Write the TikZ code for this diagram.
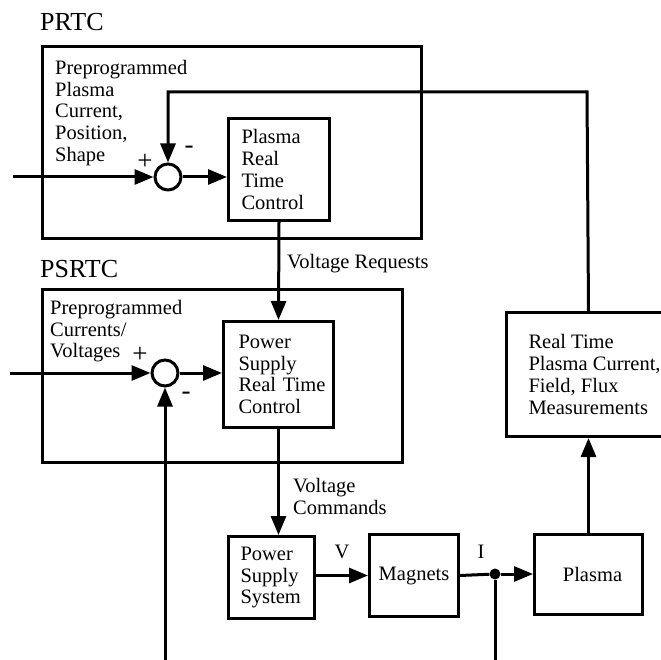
\documentclass[tikz,border=0pt]{standalone}
\usepackage{fontspec}
\setmainfont{Liberation Serif}
\usetikzlibrary{arrows.meta}

\begin{document}
\begin{tikzpicture}[x=1pt,y=-1pt,
				wire/.style={draw=black,line width=3pt},
				arr/.style={wire,-{Triangle[length=19pt,width=15pt]}},
				grp/.style={draw=black,line width=3pt,anchor=north west,inner sep=0pt},
				blk/.style={draw=black,line width=3pt,anchor=north west,align=left,
					font=\fontsize{20.5}{21.7}\selectfont,inner ysep=0pt},
				sumj/.style={circle,draw=black,line width=3pt,minimum size=26pt,
					inner sep=0pt},
				txt/.style={font=\fontsize{20.5}{21.7}\selectfont,align=left,inner sep=0pt},
				sgn/.style={font=\fontsize{27}{28}\selectfont,inner sep=0pt},
				ttl/.style={font=\fontsize{26}{28}\selectfont,inner sep=0pt,anchor=base west},
				tap/.style={circle,fill=black,inner sep=0pt,minimum size=11pt}]

				\useasboundingbox (0,0) rectangle (661,660);

				%%%%%%%%%%%%%%%%  PRTC  %%%%%%%%%%%%%%%%
				\node[ttl] (prtcT) at (40,31) {PRTC};
				\node[grp,minimum width=379pt,minimum height=192pt] (prtc) at (41,45) {};
				\node[txt,anchor=north west] (prtcIn) at (55,60)
					{Preprogrammed\\Plasma\\Current,\\Position,\\Shape};
				\node[sumj] (sum1) at (168,177) {};
				\node[blk,minimum width=101pt,minimum height=102pt,text width=75pt,
					inner xsep=13pt] (prt) at (227,117) {Plasma\\Real\\Time\\Control};
				\node[sgn] (p1) at (145,162) {+};
				\node[sgn] (m1) at (189,150) {-};
				\coordinate (in1) at (13,177);
				\draw[arr] (in1) -- (sum1.west);
				\draw[arr] (sum1.east) -- (sum1.east -| prt.west);

				%%%%%%%%%%%%%%%%  PSRTC  %%%%%%%%%%%%%%%%
				\node[ttl] (psrtcT) at (40,277) {PSRTC};
				\node[grp,minimum width=360pt,minimum height=173pt] (psrtc) at (41,288) {};
				\node[txt,anchor=north west] (psrtcIn) at (50,300)
					{Preprogrammed\\Currents/\\Voltages};
				\node[sumj] (sum2) at (165,373) {};
				\node[blk,minimum width=110pt,minimum height=106pt,text width=80pt,
					inner xsep=15pt] (psrt) at (222,320)
					{Power\\Supply\\Real~Time\\Control};
				\node[sgn] (p2) at (140,355) {+};
				\node[sgn] (m2) at (186,396) {-};
				\coordinate (in2) at (10,373);
				\draw[arr] (in2) -- (sum2.west);
				\draw[arr] (sum2.east) -- (sum2.east -| psrt.west);

				% request and command paths
				\draw[arr] (prt.south) -- (psrt.north);
				\node[txt,anchor=base west] (vreq) at (287,269) {Voltage Requests};
				\node[blk,minimum width=86pt,minimum height=82pt,text width=62pt,
					inner xsep=12pt] (pss) at (227,535) {Power\\Supply\\System};
				\draw[arr] (psrt.south) -- (psrt.south |- pss.north);
				\node[txt,anchor=north west] (vcmd) at (293,478) {Voltage\\Commands};

				%%%%%%%%%%%%%%%%  plant  %%%%%%%%%%%%%%%%
				\node[blk,minimum width=89pt,minimum height=82pt,align=center]
					(mag) at (368,533) {Magnets};
				\node[blk,minimum width=108pt,minimum height=80pt,align=center]
					(plasma) at (533,533) {\hspace*{8pt}Plasma};
				\node[blk,minimum height=124pt,inner xsep=22pt] (rt) at (505,311)
					{Real Time\\Plasma Current,\\Field, Flux\\Measurements};
				\draw[arr] (mag.west -| pss.east) -- (mag.west);
				\node[txt] (vlab) at (342,552) {V};
				\node[tap] (tapI) at (495,574) {};
				\draw[wire] (mag.east) -- (tapI);
				\draw[arr] (tapI) -- (tapI -| plasma.west);
				\node[txt] (ilab) at (481,552) {I};
				\coordinate (outI) at (495,662);
				\draw[wire] (tapI) -- (outI);
				\draw[arr] (plasma.north) -- (plasma.north |- rt.south);

				% feedback loops
				\coordinate (fbtop) at (587,92);
				\draw[arr] (rt.north -| plasma.north) -- (fbtop) -| (sum1.north);
				\coordinate (fbin) at (165,662);
				\draw[arr] (fbin) -- (sum2.south);
			\end{tikzpicture}
\end{document}
